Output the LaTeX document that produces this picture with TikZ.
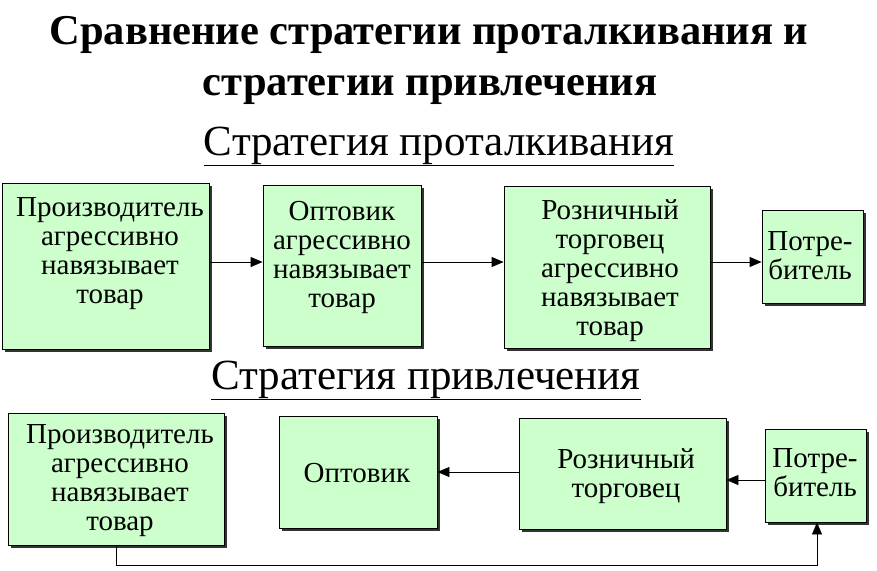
\documentclass[tikz,border=0pt]{standalone}
\usepackage{fontspec}
\setmainfont{Liberation Serif}
\usetikzlibrary{arrows.meta,shadows}
\begin{document}
\begin{tikzpicture}[x=1pt,y=-1pt,
  box/.style={draw=black, line width=0.8pt, fill=boxgreen, inner sep=0pt,
    drop shadow={shadow xshift=2.5pt, shadow yshift=-2.5pt, fill=black!80, opacity=1}},
  lbl/.style={align=center, font=\fontsize{29}{29}\selectfont, inner sep=0pt},
  conn/.style={draw=black, line width=0.8pt, -{Triangle[length=12pt,width=10pt]}},
  ttl/.style={font=\fontsize{42.5}{50}\selectfont\bfseries, inner sep=0pt, anchor=base},
  sub/.style={font=\fontsize{43}{46}\selectfont, inner sep=0pt, anchor=base}]
\definecolor{boxgreen}{HTML}{CCFFCC}
\useasboundingbox (0,0) rectangle (877,570);
\fill[white] (0,0) rectangle (877,570);
% title
\node[ttl] (title1) at (429,44) {Сравнение стратегии проталкивания и};
\node[ttl] (title2) at (430,95) {стратегии привлечения};
\node[sub] (sub1) at (439,155) {\underline{Стратегия проталкивания}};
\node[sub] (sub2) at (426,389) {\underline{Стратегия привлечения}};
% top row boxes
\node[box, minimum width=207pt, minimum height=166pt] (b1) at (105.5,266) {};
\node[box, minimum width=158pt, minimum height=161pt] (b2) at (342,265.5) {};
\node[box, minimum width=206pt, minimum height=162pt] (b3) at (607,267) {};
\node[box, minimum width=101pt, minimum height=93pt] (b4) at (812.5,256.5) {};
\node[lbl] (t1) at (110,254) {Производитель\\агрессивно\\навязывает\\товар};
\node[lbl] (t2) at (342,257) {Оптовик\\агрессивно\\навязывает\\товар};
\node[lbl] (t3) at (610,271) {Розничный\\торговец\\агрессивно\\навязывает\\товар};
\node[lbl] (t4) at (810,256) {Потре-\\битель};
% bottom row boxes
\node[box, minimum width=216pt, minimum height=132pt] (c1) at (116,479) {};
\node[box, minimum width=158pt, minimum height=112pt] (c2) at (358,472) {};
\node[box, minimum width=207pt, minimum height=111pt] (c3) at (622.5,473.5) {};
\node[box, minimum width=101pt, minimum height=93pt] (c4) at (815.5,475.5) {};
\node[lbl] (u1) at (120,481) {Производитель\\агрессивно\\навязывает\\товар};
\node[lbl] (u2) at (357,473) {Оптовик};
\node[lbl] (u3) at (626,476) {Розничный\\торговец};
\node[lbl] (u4) at (815,473) {Потре-\\битель};
% connectors top
\draw[conn] (b1.east |- 0,262) -- (b2.west |- 0,262);
\draw[conn] (b2.east |- 0,262) -- (b3.west |- 0,262);
\draw[conn] (b3.east |- 0,262) -- (b4.west |- 0,262);
% connectors bottom
\draw[conn] (c3.west |- 0,472) -- (c2.east |- 0,472);
\draw[conn] (c4.west |- 0,480) -- (c3.east |- 0,480);
\coordinate (k1) at (116,565);
\coordinate (k2) at (817,565);
\draw[conn] (c1.south) -- (k1) -- (k2) -- (c4.south -| k2);
\end{tikzpicture}
\end{document}
